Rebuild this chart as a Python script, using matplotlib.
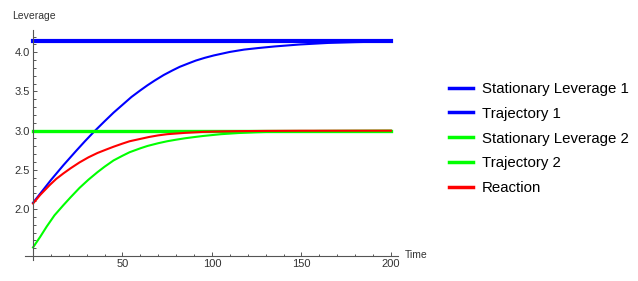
import numpy as np
import matplotlib
matplotlib.use('Agg')
import matplotlib.pyplot as plt
from matplotlib.ticker import MultipleLocator

plt.rcParams['font.family'] = ['Liberation Sans', 'DejaVu Sans']

# values
stat1_level = 4.14
stat2_level = 3.0
t_end = 200

t_traj1 = [0, 5, 10, 17, 24, 29, 34, 40, 45, 50, 55, 60, 64, 68, 73, 78, 82, 87,
           91, 96, 101, 110, 118, 126, 135, 149, 165, 180, 200]
traj1 = [2.08, 2.225, 2.37, 2.56, 2.74, 2.865, 2.985, 3.12, 3.23, 3.33, 3.43, 3.515,
         3.58, 3.64, 3.71, 3.77, 3.815, 3.86, 3.895, 3.93, 3.96, 4.005, 4.035, 4.055,
         4.075, 4.10, 4.12, 4.13, 4.14]

t_reac = [0, 4, 9.5, 13, 17, 21, 26, 31, 36, 41, 45, 50, 54, 60, 65, 70, 75, 85,
          95, 105, 115, 130, 150, 200]
reaction = [2.07, 2.18, 2.31, 2.385, 2.455, 2.52, 2.595, 2.66, 2.715, 2.76, 2.795,
            2.835, 2.865, 2.895, 2.92, 2.94, 2.955, 2.972, 2.984, 2.99, 2.994, 2.997,
            2.999, 3.0]

t_traj2 = [0, 4, 7.6, 12, 17, 21, 26, 31, 36, 40, 45, 50, 54, 60, 64, 70, 75, 80,
           85, 90, 95, 105, 115, 125, 140, 160, 200]
traj2 = [1.51, 1.645, 1.775, 1.92, 2.05, 2.15, 2.27, 2.375, 2.47, 2.54, 2.62, 2.68,
         2.725, 2.775, 2.805, 2.84, 2.865, 2.885, 2.903, 2.918, 2.932, 2.955, 2.97,
         2.98, 2.99, 2.996, 3.0]

labels = ['Stationary Leverage 1', 'Trajectory 1', 'Stationary Leverage 2',
          'Trajectory 2', 'Reaction']

fig = plt.figure(figsize=(6.38, 2.81), dpi=100)
ax = fig.add_axes([25 / 638, 1 - 260 / 281, 373 / 638, 230 / 281])

ax.plot([0, t_end], [stat1_level, stat1_level], color='#0000ff', lw=3.0, label=labels[0])
ax.plot(t_traj1, traj1, color='#0000ff', lw=1.5, label=labels[1])
ax.plot([0, t_end], [stat2_level, stat2_level], color='#00ff00', lw=2.4, label=labels[2])
ax.plot(t_traj2, traj2, color='#00ff00', lw=1.5, label=labels[3])
ax.plot(t_reac, reaction, color='#ff0000', lw=1.5, label=labels[4])

ax.set_xlim(-4.5, 204)
ax.set_ylim(1.349, 4.285)

ax.spines['left'].set_position(('data', 0))
ax.spines['bottom'].set_position(('data', 1.4))
ax.spines['top'].set_visible(False)
ax.spines['right'].set_visible(False)
for s in ['left', 'bottom']:
    ax.spines[s].set_color('#555555')
    ax.spines[s].set_linewidth(0.8)

ax.xaxis.set_minor_locator(MultipleLocator(10))
ax.yaxis.set_minor_locator(MultipleLocator(0.1))
ax.set_xticks([50, 100, 150, 200])
ax.set_yticks([2.0, 2.5, 3.0, 3.5, 4.0])
ax.set_yticklabels(['2.0', '2.5', '3.0', '3.5', '4.0'])
ax.tick_params(which='both', direction='in', colors='#555555', labelcolor='#333333',
               labelsize=8, width=0.7, pad=2)
ax.tick_params(which='major', length=3)
ax.tick_params(which='minor', length=1.8)

fig.text(12 / 638, 1 - 16 / 281, 'Leverage', fontsize=7.5, va='center', color='#333333')
fig.text(405 / 638, 1 - 255 / 281, 'Time', fontsize=7.5, va='center', color='#333333')

leg = fig.legend(loc='center left', bbox_to_anchor=(449 / 638, 1 - 138.5 / 281),
                 frameon=False, fontsize=10.8, handlelength=1.6, handletextpad=0.6,
                 labelspacing=0.72, borderpad=0, borderaxespad=0)
for line in leg.get_lines():
    line.set_linewidth(2.5)

fig.savefig('out.png', dpi=100)
